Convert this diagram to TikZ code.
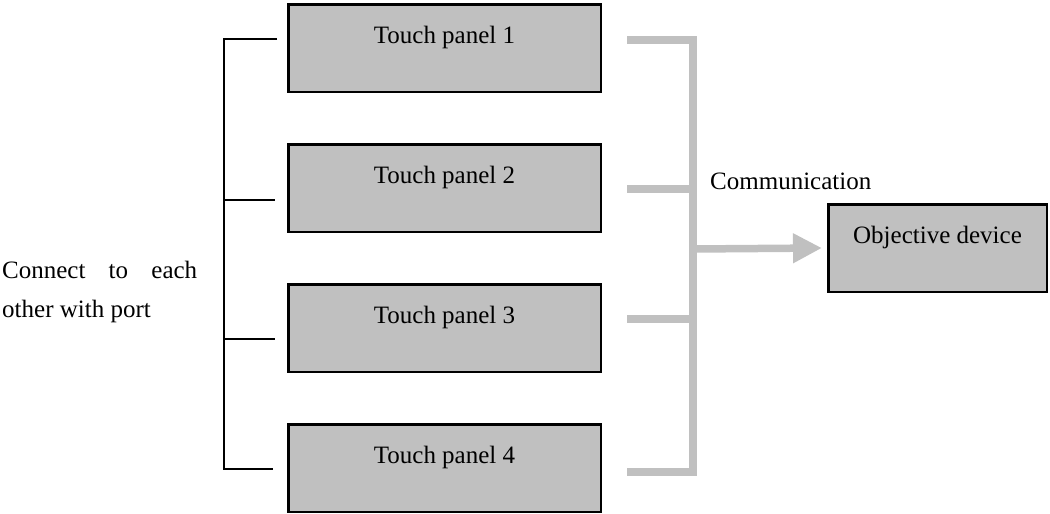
\documentclass[tikz,border=0pt]{standalone}
\usepackage{fontspec}
\setmainfont{Liberation Serif}
\usetikzlibrary{arrows.meta}
\definecolor{silverbox}{HTML}{C0C0C0}
\begin{document}
\begin{tikzpicture}[x=1pt,y=-1pt,
  txt/.style={font=\fontsize{25}{30}\selectfont},
  panel/.style={draw=black, line width=2.5pt, fill=silverbox,
    minimum width=312.5pt, minimum height=87.5pt, inner sep=0pt,
    text height=18pt, text depth=28pt, txt},
  bus/.style={draw=silverbox, line width=7.5pt, line join=miter},
  port/.style={draw=black, line width=2.4pt}]
\useasboundingbox (0,0) rectangle (1050,514);
% panels
\node[panel] (p1) at (444.5,48)  {Touch panel 1};
\node[panel] (p2) at (444.5,188) {Touch panel 2};
\node[panel] (p3) at (444.5,328) {Touch panel 3};
\node[panel] (p4) at (444.5,468) {Touch panel 4};
\node[panel, minimum width=218.5pt] (obj) at (937.5,248) {Objective device};
% labels
\node[txt, anchor=base west, inner sep=0pt] (comm) at (710,189) {Communication};
\node[anchor=north west, inner sep=0pt, text width=195pt, align=justify,
  font=\fontsize{25}{39}\selectfont] (lbl) at (2,261) {Connect to each other with port};
% port bracket
\coordinate (k1) at (224,39);
\coordinate (k2) at (224,200);
\coordinate (k3) at (224,339);
\coordinate (k4) at (224,469);
\coordinate (t1) at (277,39);
\coordinate (t2) at (275,200);
\coordinate (t3) at (275,339);
\coordinate (t4) at (273,469);
\draw[port] (t1) -- (k1) -- (k4) -- (t4);
\draw[port] (k2) -- (t2);
\draw[port] (k3) -- (t3);
% communication bus
\coordinate (g1) at (627,40);
\coordinate (g2) at (627,189);
\coordinate (g3) at (627,319);
\coordinate (g4) at (627,472);
\coordinate (b1) at (693,40);
\coordinate (b2) at (693,189);
\coordinate (b3) at (693,319);
\coordinate (b4) at (693,472);
\coordinate (ba) at (693,249);
\draw[bus] (g1) -- (b1) -- (b4) -- (g4);
\draw[bus] (g2) -- (b2);
\draw[bus] (g3) -- (b3);
\draw[bus, -{Triangle[length=29pt,width=28pt]}] (ba) -- ([xshift=-5pt]obj.west);
\end{tikzpicture}
\end{document}
